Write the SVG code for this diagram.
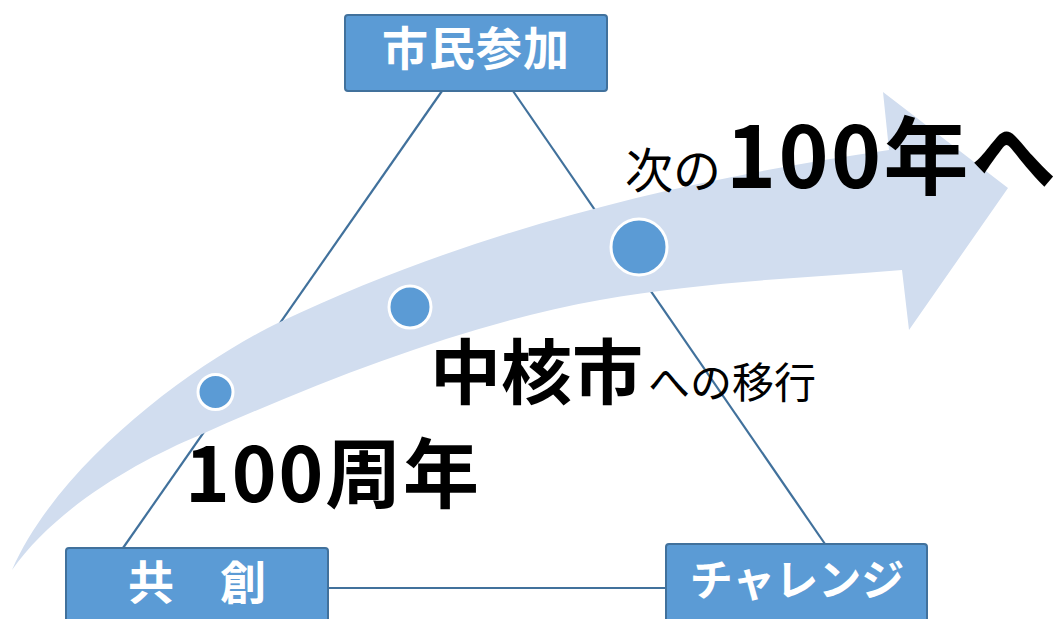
<svg xmlns="http://www.w3.org/2000/svg" width="1057" height="619" viewBox="0 0 1057 619">
<style>
.box{fill:#5B9BD5;stroke:#41719C;stroke-width:2}
.lbl{font-family:"Noto Sans CJK JP","Noto Sans CJK SC",sans-serif;font-weight:bold;fill:#fff;text-anchor:middle}
.conn{stroke:#41719C;stroke-width:2.2;fill:none}
.dot{fill:#5B9BD5;stroke:#fff;stroke-width:3}
.big{font-family:"Noto Sans CJK JP","Noto Sans CJK SC",sans-serif;fill:#000}
.b{font-weight:bold}
</style>
<rect width="1057" height="619" fill="#fff"/>
<g id="connectors">
<line class="conn" x1="442" y1="91" x2="123" y2="548"/>
<line class="conn" x1="513" y1="91" x2="825" y2="544"/>
<line class="conn" x1="328" y1="588" x2="666" y2="588"/>
</g>
<g id="arrow">
<path fill="#D1DDEF" d="M12,570 C60,460 200,360 280,322 C480,227 689,179 889,150 L883,92 L1008,188 L909,330 L902,270 C802,278 700,282 600,300 C470,323 330,377 200,435 C140,460 57,506 12,570 Z"/>
</g>
<g id="node-shimin">
<rect class="box" x="345" y="15" width="262" height="76" rx="3"/>
<text class="lbl" x="476" y="65" font-size="46" letter-spacing="1">市民参加</text>
</g>
<g id="node-kyoso">
<rect class="box" x="66" y="548" width="262" height="90" rx="3"/>
<text class="lbl" x="197" y="599" font-size="46">共　創</text>
</g>
<g id="node-challenge">
<rect class="box" x="666" y="544" width="261" height="94" rx="3"/>
<text class="lbl" x="797" y="596" font-size="43">チャレンジ</text>
</g>
<g id="milestones">
<circle class="dot" cx="215.5" cy="392" r="17.5"/>
<circle class="dot" cx="410" cy="307" r="21"/>
<circle class="dot" cx="639" cy="247" r="28" stroke-width="3.5"/>
</g>
<g id="label-100">
<text class="big b" x="185" y="502" font-size="76" textLength="294">100周年</text>
</g>
<g id="label-chukaku">
<text class="big" y="398"><tspan class="b" x="430" font-size="71">中核市</tspan><tspan x="648" font-size="42">への移行</tspan></text>
</g>
<g id="label-next">
<text class="big" y="188"><tspan x="625" font-size="48">次の</tspan><tspan class="b" x="726" font-size="85" textLength="330">100年へ</tspan></text>
</g>
</svg>
